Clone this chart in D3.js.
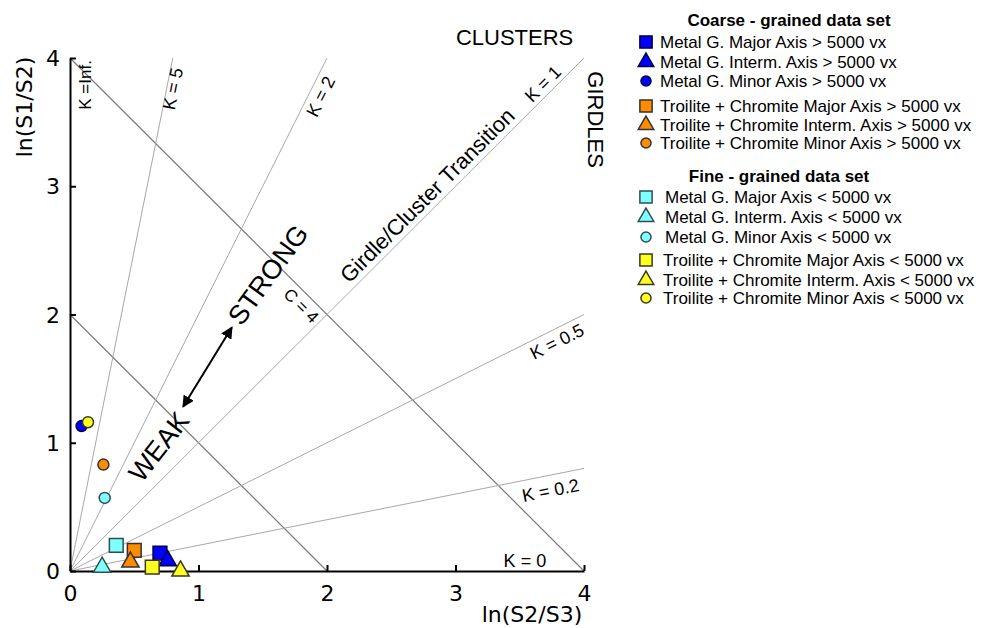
<!DOCTYPE html>
<html lang="en">
<head>
<meta charset="UTF-8">
<script src="https://cdnjs.cloudflare.com/ajax/libs/d3/7.9.0/d3.min.js"></script>
<title>Flinn-type fabric diagram</title>
<style>
  body { margin: 0; background: #fff; }
  svg { display: block; }
  .tick text { font-family: "DejaVu Sans", sans-serif; font-size: 22px; }
  .ann { font-family: "Liberation Sans", Arial, sans-serif; fill: #000; }
</style>
</head>
<body>
<div id="chart"></div>
<script>
// ---- data ----
const seriesNames = [
  "Metal G. Major Axis > 5000 vx",
  "Metal G. Interm. Axis > 5000 vx",
  "Metal G. Minor Axis > 5000 vx",
  "Troilite + Chromite Major Axis > 5000 vx",
  "Troilite + Chromite Interm. Axis > 5000 vx",
  "Troilite + Chromite Minor Axis > 5000 vx",
  "Metal G. Major Axis < 5000 vx",
  "Metal G. Interm. Axis < 5000 vx",
  "Metal G. Minor Axis < 5000 vx",
  "Troilite + Chromite Major Axis < 5000 vx",
  "Troilite + Chromite Interm. Axis < 5000 vx",
  "Troilite + Chromite Minor Axis < 5000 vx"
];
const seriesShapes = ["square", "triangle", "circle", "square", "triangle", "circle",
                      "square", "triangle", "circle", "square", "triangle", "circle"];
const seriesGroup = ["coarse", "coarse", "coarse", "coarse", "coarse", "coarse",
                     "fine", "fine", "fine", "fine", "fine", "fine"];
// ln(S2/S3), ln(S1/S2) for each series
const xValues = [0.70, 0.76, 0.09, 0.50, 0.47, 0.26, 0.36, 0.25, 0.27, 0.64, 0.86, 0.14];
const yValues = [0.14, 0.08, 1.13, 0.16, 0.07, 0.83, 0.20, 0.03, 0.57, 0.03, 0.00, 1.16];

const kValues = [5, 2, 1, 0.5, 0.2];
const cValues = [2, 4];
const tickValues = [0, 1, 2, 3, 4];

const fills = ["#0000ff", "#0000ff", "#0000ff", "#ff8c00", "#ff8c00", "#ff8c00",
               "#7fffff", "#7fffff", "#7fffff", "#ffff22", "#ffff22", "#ffff22"];
const strokes = ["#000044", "#000044", "#000044", "#333", "#333", "#333",
                 "#2f4f4f", "#2f4f4f", "#2f4f4f", "#3a3a1a", "#3a3a1a", "#3a3a1a"];

// ---- layout ----
const width = 989, height = 628;
const svg = d3.select("#chart").append("svg").attr("width", width).attr("height", height);

const x = d3.scaleLinear().domain([0, 4]).range([70, 584]);
const y = d3.scaleLinear().domain([0, 4]).range([571, 58]);

// C lines (x + y = C)
svg.selectAll(".cline").data(cValues).enter().append("line")
  .attr("x1", x(0)).attr("y1", c => y(c))
  .attr("x2", c => x(c)).attr("y2", y(0))
  .attr("stroke", "#7a7a7a").attr("stroke-width", 1.2);

// K lines (y = K x)
svg.selectAll(".kline").data(kValues).enter().append("line")
  .attr("x1", x(0)).attr("y1", y(0))
  .attr("x2", k => x(Math.min(4, 4 / k))).attr("y2", k => y(Math.min(4, 4 * k)))
  .attr("stroke", "#a8a8a8").attr("stroke-width", 1);

// axes
const xAxis = d3.axisBottom(x).tickValues(tickValues).tickFormat(d3.format("d"))
  .tickSizeInner(-6).tickSizeOuter(0).tickPadding(14);
const yAxis = d3.axisLeft(y).tickValues(tickValues).tickFormat(d3.format("d"))
  .tickSizeInner(-6).tickSizeOuter(0).tickPadding(10);

const gx = svg.append("g").attr("transform", `translate(0,${y(0)})`).call(xAxis);
const gy = svg.append("g").attr("transform", `translate(${x(0)},0)`).call(yAxis);
[gx, gy].forEach(g => {
  g.select(".domain").attr("stroke", "#000").attr("stroke-width", 2);
  g.selectAll(".tick line").attr("stroke", "#000").attr("stroke-width", 2);
  g.selectAll(".tick text").attr("fill", "#000");
});
gy.selectAll(".tick text").attr("dy", "0.35em");

svg.append("text").attr("x", 532).attr("y", 622)
  .attr("text-anchor", "middle")
  .style("font-family", "DejaVu Sans").style("font-size", "22px")
  .text("ln(S2/S3)");
svg.append("text").attr("transform", "translate(32,107) rotate(-90)")
  .attr("text-anchor", "middle")
  .style("font-family", "DejaVu Sans").style("font-size", "22px")
  .text("ln(S1/S2)");

// annotations
const notes = [
  { t: "CLUSTERS", x: 3.46, y: 4.16, r: 0, s: 22 },
  { t: "GIRDLES", x: 4.09, y: 3.52, r: 90, s: 22 },
  { t: "K =Inf.", x: 0.12, y: 3.79, r: -90, s: 17 },
  { t: "K = 5", x: 0.80, y: 3.76, r: -78.7, s: 18 },
  { t: "K = 2", x: 1.95, y: 3.70, r: -63.4, s: 18 },
  { t: "K = 1", x: 3.68, y: 3.80, r: -45, s: 18 },
  { t: "Girdle/Cluster Transition", x: 2.78, y: 2.93, r: -45, s: 22 },
  { t: "K = 0.5", x: 3.79, y: 1.79, r: -26.6, s: 18 },
  { t: "K = 0.2", x: 3.74, y: 0.63, r: -11.3, s: 18 },
  { t: "K = 0", x: 3.54, y: 0.08, r: 0, s: 18 },
  { t: "C = 4", x: 1.80, y: 2.07, r: 45, s: 17 },
  { t: "STRONG", x: 1.54, y: 2.31, r: -54, s: 27 },
  { t: "WEAK", x: 0.69, y: 0.97, r: -52, s: 27 }
];
svg.selectAll(".ann").data(notes).enter().append("text")
  .attr("class", "ann")
  .attr("transform", d => `translate(${x(d.x)},${y(d.y)}) rotate(${d.r})`)
  .attr("text-anchor", "middle").attr("dy", "0.35em")
  .style("font-size", d => d.s + "px")
  .text(d => d.t);

// double-headed arrow
const defs = svg.append("defs");
defs.append("marker").attr("id", "ah").attr("viewBox", "0 0 10 10")
  .attr("refX", 9).attr("refY", 5).attr("markerWidth", 6).attr("markerHeight", 6)
  .attr("orient", "auto-start-reverse")
  .append("path").attr("d", "M0,0 L10,5 L0,10 z").attr("fill", "#000");
svg.append("line")
  .attr("x1", x(0.88)).attr("y1", y(1.28))
  .attr("x2", x(1.26)).attr("y2", y(1.90))
  .attr("stroke", "#000").attr("stroke-width", 2)
  .attr("marker-start", "url(#ah)").attr("marker-end", "url(#ah)");

// symbols
const symType = { square: d3.symbolSquare, triangle: d3.symbolTriangle, circle: d3.symbolCircle };
const plotSize = { square: 190, triangle: 130, circle: 95 };
const legSize = { square: 150, triangle: 105, circle: 80 };

const points = seriesNames.map((n, i) => ({ i, x: xValues[i], y: yValues[i] }));
svg.selectAll(".pt").data(points).enter().append("path")
  .attr("transform", d => `translate(${x(d.x)},${y(d.y)})`)
  .attr("d", d => d3.symbol().type(symType[seriesShapes[d.i]]).size(plotSize[seriesShapes[d.i]])())
  .attr("fill", d => fills[d.i]).attr("stroke", d => strokes[d.i]).attr("stroke-width", 1.5);

// legend
const legend = svg.append("g").attr("class", "legend");
legend.append("text").attr("x", 789).attr("y", 26).attr("text-anchor", "middle")
  .attr("class", "ann").style("font-size", "17px").style("font-weight", "bold")
  .text("Coarse - grained data set");
legend.append("text").attr("x", 779).attr("y", 182).attr("text-anchor", "middle")
  .attr("class", "ann").style("font-size", "17px").style("font-weight", "bold")
  .text("Fine - grained data set");

const rowY = [42, 62, 81, 106, 125, 143, 197, 217, 237, 260, 280, 298];
const rows = legend.selectAll(".row").data(seriesNames).enter().append("g")
  .attr("transform", (d, i) => `translate(0,${rowY[i]})`);
rows.append("path")
  .attr("transform", "translate(646,0)")
  .attr("d", (d, i) => d3.symbol().type(symType[seriesShapes[i]]).size(legSize[seriesShapes[i]])())
  .attr("fill", (d, i) => fills[i]).attr("stroke", (d, i) => strokes[i]).attr("stroke-width", 1.5);
rows.append("text").attr("class", "ann")
  .attr("x", (d, i) => seriesGroup[i] === "fine" ? (i < 9 ? 665 : 663) : 660)
  .attr("dy", "0.35em").style("font-size", "17px")
  .text(d => d);
</script>
</body>
</html>
